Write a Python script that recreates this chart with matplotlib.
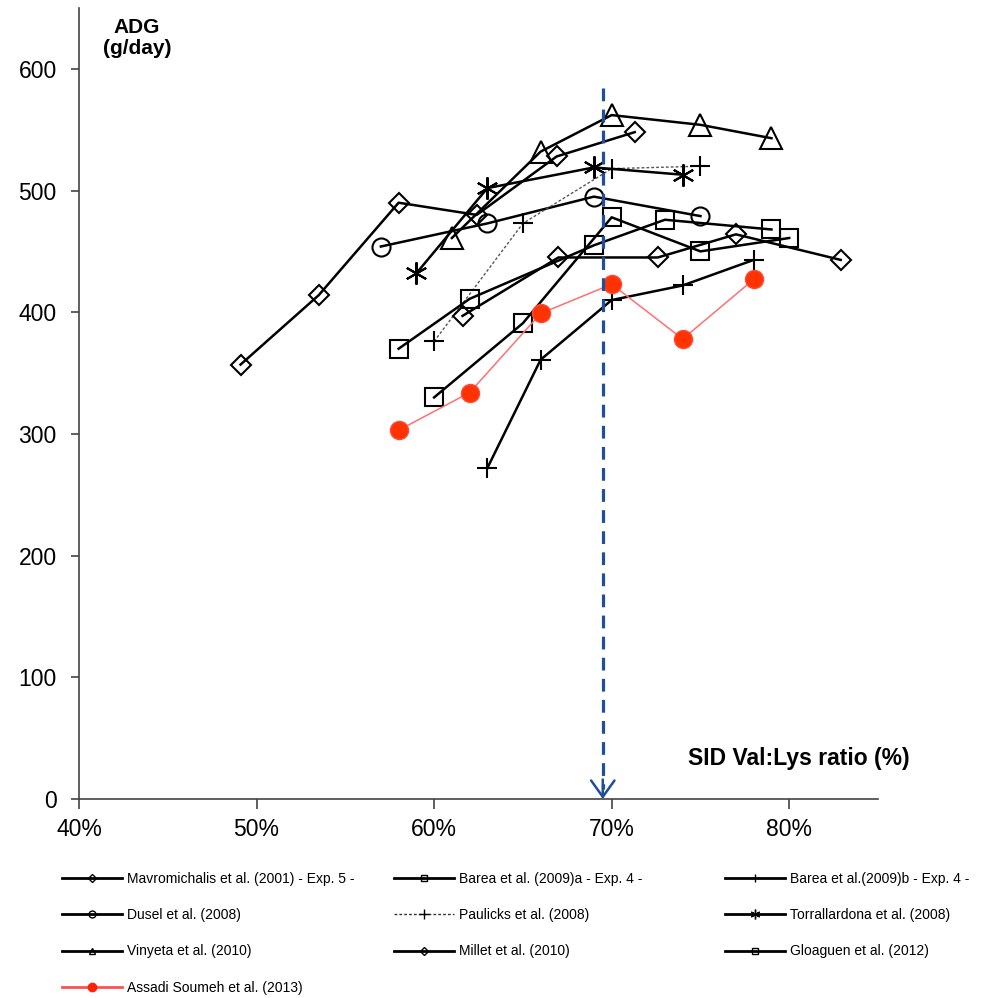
import matplotlib
matplotlib.use("Agg")
import matplotlib.pyplot as plt
from matplotlib.lines import Line2D

plt.rcParams['font.family'] = ['Liberation Sans', 'DejaVu Sans']

# SID Val:Lys ratio (%) and ADG (g/day) per study
mavro_x = [49.1, 53.5, 58.0, 62.4, 66.9, 71.3]
mavro_y = [357, 414, 490, 480, 528, 548]
barea_a_x = [60, 65, 70, 75, 80]
barea_a_y = [330, 391, 478, 450, 461]
barea_b_x = [63, 66, 70, 74, 78]
barea_b_y = [272, 361, 410, 422, 443]
dusel_x = [57, 63, 69, 75]
dusel_y = [454, 473, 495, 479]
paulicks_x = [60, 65, 70, 75]
paulicks_y = [376, 473, 518, 520]
torra_x = [59, 63, 69, 74]
torra_y = [432, 502, 519, 513]
vinyeta_x = [61, 66, 70, 75, 79]
vinyeta_y = [461, 532, 562, 554, 543]
millet_x = [61.6, 67.0, 72.6, 77.0, 82.9]
millet_y = [397, 445, 445, 464, 443]
gloaguen_x = [58, 62, 69, 73, 79]
gloaguen_y = [370, 411, 455, 476, 468]
assadi_x = [58, 62, 66, 70, 74, 78]
assadi_y = [303, 334, 399, 423, 378, 427]

optimum = 69.5
x_ticks = [40, 50, 60, 70, 80]
y_ticks = [0, 100, 200, 300, 400, 500, 600]

fig = plt.figure(figsize=(9.87, 9.98), dpi=100)
ax = fig.add_axes([79 / 987, 1 - 799 / 998, (878 - 79) / 987, (799 - 8) / 998])

blk = dict(color='black', lw=1.8, mfc='none', mec='black', mew=1.5)

ax.plot(mavro_x, mavro_y, marker='D', ms=10, **blk)
ax.plot(barea_a_x, barea_a_y, marker='s', ms=13, **blk)
ax.plot(barea_b_x, barea_b_y, marker='+', ms=15, **blk)
ax.plot(dusel_x, dusel_y, marker='o', ms=13, **blk)
ax.plot(paulicks_x, paulicks_y, color='#555555', lw=1, linestyle=(0, (2, 1.5)),
        marker='+', ms=15, mec='black', mew=1.5)
ax.plot(torra_x, torra_y, marker=(6, 2, 0), ms=16, **blk)
ax.plot(vinyeta_x, vinyeta_y, marker='^', ms=16, **blk)
ax.plot(millet_x, millet_y, marker='D', ms=10, **blk)
ax.plot(gloaguen_x, gloaguen_y, marker='s', ms=13, **blk)
ax.plot(assadi_x, assadi_y, color='#FF7070', lw=1.1, marker='o', ms=13,
        mfc='#FF3300', mec='#FF4A3A', mew=1)

# optimum ratio marker
ax.plot([optimum, optimum], [584, 8], color='#1F4E9A', lw=2.3, linestyle=(0, (4, 2.6)))
ax.annotate('', xy=(optimum, 0), xytext=(optimum, 16),
            arrowprops=dict(arrowstyle='->, head_length=0.42, head_width=0.3',
                            color='#1F4E9A', lw=1.8,
                            mutation_scale=28, shrinkA=0, shrinkB=0))

ax.set_xlim(40, 85)
ax.set_ylim(0, 650)
ax.set_xticks(x_ticks)
ax.set_xticklabels([f'{v}%' for v in x_ticks])
ax.set_yticks(y_ticks)
ax.spines['top'].set_visible(False)
ax.spines['right'].set_visible(False)
for s in ['left', 'bottom']:
    ax.spines[s].set_color('#444444')
    ax.spines[s].set_linewidth(1.2)
ax.tick_params(axis='x', direction='out', length=7, width=1.2, color='#444444',
               labelsize=16.5, pad=7)
ax.tick_params(axis='y', direction='out', length=6, width=1.2, color='#444444',
               labelsize=16.5, pad=10)

fig.text(137 / 987, 1 - 38 / 998, 'ADG\n(g/day)', ha='center', va='center',
         fontsize=15, fontweight='bold', linespacing=1.15)
fig.text(910 / 987, 1 - 758 / 998, 'SID Val:Lys ratio (%)', ha='right', va='center',
         fontsize=16.5, fontweight='bold')

# legend, three columns placed by hand
def h(label, marker, ms=5, **kw):
    style = dict(color='black', lw=2, marker=marker, ms=ms, mfc='none', mec='black', mew=1)
    style.update(kw)
    return Line2D([], [], label=label, **style)

columns = [
    [h('Mavromichalis et al. (2001) - Exp. 5 -', 'D', 4),
     h('Dusel et al. (2008)', 'o'),
     h('Vinyeta et al. (2010)', '^'),
     h('Assadi Soumeh et al. (2013)', 'o', 6, color='#FF5050', mfc='#FF2200', mec='#FF2200')],
    [h('Barea et al. (2009)a - Exp. 4 -', 's'),
     h('Paulicks et al. (2008)', '+', 7, lw=1, linestyle=(0, (2, 1.5)), color='#333333'),
     h('Millet et al. (2010)', 'D', 4)],
    [h('Barea et al.(2009)b - Exp. 4 -', '|', 6),
     h('Torrallardona et al. (2008)', (6, 2, 0), 7),
     h('Gloaguen et al. (2012)', 's')],
]
col_x = [62, 394, 725]
for hx, handles in zip(col_x, columns):
    leg = fig.legend(handles=handles, loc='upper left',
                     bbox_to_anchor=(hx / 987, 1 - 872 / 998),
                     frameon=False, fontsize=10, handlelength=4.3,
                     handletextpad=0.4, labelspacing=1.6, borderpad=0,
                     borderaxespad=0)

fig.savefig('out.png', dpi=100)
